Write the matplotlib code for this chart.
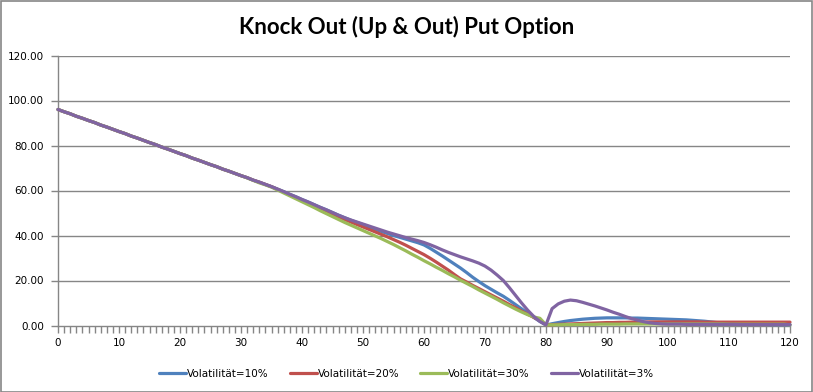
#!/usr/bin/env python3

import matplotlib
matplotlib.use("Agg")
import matplotlib.pyplot as plt
from matplotlib.patches import Rectangle
from matplotlib.ticker import MultipleLocator, FormatStrFormatter

plt.rcParams["font.family"] = ["DejaVu Sans"]

# underlying price categories 0..120
x_values = list(range(121))

# values, one per category
vol_10 = [
    96.0, 95.0, 94.1, 93.0, 92.1, 91.1, 90.2, 89.1, 88.2, 87.2,
    86.2, 85.3, 84.2, 83.3, 82.3, 81.3, 80.4, 79.3, 78.4, 77.4,
    76.4, 75.5, 74.4, 73.5, 72.5, 71.5, 70.6, 69.5, 68.6, 67.6,
    66.6, 65.7, 64.6, 63.7, 62.7, 61.7, 60.6, 59.5, 58.3, 57.2,
    56.0, 54.9, 53.7, 52.5, 51.4, 50.2, 49.0, 47.9, 46.8, 45.8,
    44.8, 43.8, 42.8, 41.8, 40.9, 40.0, 39.2, 38.4, 37.6, 36.8,
    35.8, 34.3, 32.6, 30.9, 29.1, 27.3, 25.5, 23.5, 21.4, 19.5,
    17.7, 16.1, 14.5, 13.0, 11.2, 9.3, 7.4, 5.5, 3.6, 1.8,
    0.2, 0.8, 1.3, 1.8, 2.2, 2.5, 2.8, 3.0, 3.2, 3.3,
    3.4, 3.4, 3.4, 3.4, 3.3, 3.3, 3.2, 3.1, 3.0, 2.9,
    2.8, 2.7, 2.6, 2.5, 2.3, 2.1, 1.9, 1.6, 1.3, 1.1,
    0.9, 0.8, 0.7, 0.7, 0.6, 0.5, 0.5, 0.4, 0.4, 0.4,
    0.3,
]
vol_20 = [
    96.0, 95.0, 94.1, 93.0, 92.1, 91.1, 90.2, 89.1, 88.2, 87.2,
    86.2, 85.3, 84.2, 83.3, 82.3, 81.3, 80.4, 79.3, 78.4, 77.4,
    76.4, 75.5, 74.4, 73.5, 72.5, 71.5, 70.6, 69.5, 68.6, 67.6,
    66.6, 65.7, 64.6, 63.7, 62.7, 61.7, 60.5, 59.3, 58.1, 56.9,
    55.7, 54.5, 53.2, 51.9, 50.7, 49.5, 48.3, 47.1, 46.0, 44.9,
    43.8, 42.7, 41.6, 40.5, 39.4, 38.2, 37.0, 35.7, 34.3, 32.9,
    31.5, 29.9, 28.2, 26.4, 24.6, 22.6, 20.7, 19.3, 17.8, 16.4,
    15.0, 13.6, 12.2, 10.8, 9.3, 7.9, 6.4, 5.0, 3.6, 2.2,
    0.3, 0.4, 0.5, 0.6, 0.7, 0.8, 0.9, 1.0, 1.1, 1.2,
    1.3, 1.3, 1.4, 1.4, 1.5, 1.5, 1.5, 1.6, 1.6, 1.6,
    1.6, 1.6, 1.6, 1.6, 1.6, 1.6, 1.5, 1.5, 1.5, 1.5,
    1.5, 1.5, 1.5, 1.5, 1.5, 1.5, 1.5, 1.5, 1.5, 1.5,
    1.5,
]
vol_30 = [
    96.0, 95.0, 94.1, 93.0, 92.1, 91.1, 90.2, 89.1, 88.2, 87.2,
    86.2, 85.3, 84.2, 83.3, 82.3, 81.3, 80.4, 79.3, 78.4, 77.4,
    76.4, 75.5, 74.4, 73.5, 72.5, 71.5, 70.6, 69.5, 68.6, 67.6,
    66.6, 65.6, 64.5, 63.4, 62.5, 61.5, 60.2, 58.9, 57.6, 56.3,
    55.0, 53.7, 52.4, 51.0, 49.7, 48.4, 47.1, 45.8, 44.6, 43.4,
    42.2, 41.0, 39.8, 38.6, 37.3, 36.0, 34.6, 33.2, 31.7, 30.3,
    28.8, 27.4, 25.9, 24.5, 23.0, 21.6, 20.1, 18.7, 17.3, 15.8,
    14.4, 13.0, 11.6, 10.1, 8.7, 7.3, 6.0, 4.8, 3.8, 3.2,
    0.3, 0.3, 0.3, 0.4, 0.4, 0.4, 0.5, 0.5, 0.5, 0.6,
    0.6, 0.6, 0.6, 0.7, 0.7, 0.7, 0.7, 0.7, 0.7, 0.7,
    0.7, 0.7, 0.7, 0.7, 0.7, 0.7, 0.7, 0.7, 0.7, 0.7,
    0.6, 0.6, 0.6, 0.6, 0.6, 0.6, 0.6, 0.6, 0.6, 0.6,
    0.3,
]
vol_3 = [
    96.0, 95.0, 94.1, 93.0, 92.1, 91.1, 90.2, 89.1, 88.2, 87.2,
    86.2, 85.3, 84.2, 83.3, 82.3, 81.3, 80.4, 79.3, 78.4, 77.4,
    76.4, 75.5, 74.4, 73.5, 72.5, 71.5, 70.6, 69.5, 68.6, 67.6,
    66.6, 65.7, 64.6, 63.7, 62.7, 61.7, 60.6, 59.5, 58.3, 57.2,
    56.0, 54.9, 53.7, 52.5, 51.4, 50.2, 49.0, 47.9, 46.9, 46.0,
    45.1, 44.2, 43.3, 42.4, 41.5, 40.7, 39.9, 39.1, 38.4, 37.7,
    36.9, 35.9, 34.8, 33.6, 32.5, 31.5, 30.5, 29.6, 28.7, 27.7,
    26.4, 24.6, 22.4, 20.0, 16.8, 13.4, 10.0, 6.8, 4.0, 1.8,
    0.3, 7.5, 9.6, 10.8, 11.3, 11.0, 10.3, 9.5, 8.7, 7.8,
    6.9, 5.9, 5.0, 4.0, 3.1, 2.4, 1.7, 1.2, 0.9, 0.7,
    0.6, 0.6, 0.6, 0.5, 0.5, 0.5, 0.5, 0.5, 0.5, 0.5,
    0.5, 0.5, 0.4, 0.4, 0.4, 0.4, 0.4, 0.4, 0.4, 0.4,
    0.4,
]

series_labels = ["Volatilität=10%", "Volatilität=20%", "Volatilität=30%", "Volatilität=3%"]
series_colors = ["#4F81BD", "#C0504D", "#9BBB59", "#8064A2"]
title_text = "Knock Out (Up & Out) Put Option"

W, H = 813, 392
GRAY = "#868686"


def main():
    fig = plt.figure(figsize=(W / 100, H / 100), dpi=100)
    fig.patch.set_facecolor("white")

    # plot area in pixels: x 58..790, y 55.5..325.5 (from the top)
    left, right, top, bottom = 58, 790, 55.5, 325.5
    ax = fig.add_axes([left / W, 1 - bottom / H, (right - left) / W, (bottom - top) / H])

    for values, label, color in zip([vol_10, vol_20, vol_30, vol_3], series_labels, series_colors):
        ax.plot(x_values, values, color=color, lw=2.3, label=label, clip_on=False,
                solid_joinstyle="round", solid_capstyle="round", zorder=3)

    ax.set_xlim(0, 120)
    ax.set_ylim(0, 120)

    # horizontal gridlines
    for yv in range(20, 121, 20):
        ax.axhline(yv, color=GRAY, lw=1.0, zorder=1)

    for side in ["top", "right"]:
        ax.spines[side].set_visible(False)
    for side in ["left", "bottom"]:
        ax.spines[side].set_color(GRAY)
        ax.spines[side].set_linewidth(1.0)

    ax.yaxis.set_major_locator(MultipleLocator(20))
    ax.yaxis.set_major_formatter(FormatStrFormatter("%.2f"))
    ax.xaxis.set_major_locator(MultipleLocator(10))
    ax.xaxis.set_minor_locator(MultipleLocator(1))

    ax.tick_params(axis="y", which="major", direction="out", length=5, width=1.0,
                   color=GRAY, labelsize=7.5, pad=5, labelcolor="black")
    ax.tick_params(axis="x", which="both", direction="out", length=5, width=1.0,
                   color=GRAY, labelsize=7.5, pad=4, labelcolor="black")

    fig.text(0.5, 1 - 27 / H, title_text, ha="center", va="center",
             fontsize=16, fontweight="bold", family="Lato")

    handles, labels = ax.get_legend_handles_labels()
    fig.legend(handles, labels, loc="center", bbox_to_anchor=(0.5, 1 - 374 / H),
               ncol=4, frameon=False, fontsize=7.5, handlelength=2.6,
               handletextpad=0.1, columnspacing=2.0)

    # chart area border, like the Excel frame
    fig.patches.append(Rectangle((0.5 / W, 0.5 / H), 1 - 1.5 / W, 1 - 1.5 / H,
                                 transform=fig.transFigure, fill=False,
                                 edgecolor=GRAY, lw=1.2))

    fig.savefig("out.png", dpi=100)


main()
